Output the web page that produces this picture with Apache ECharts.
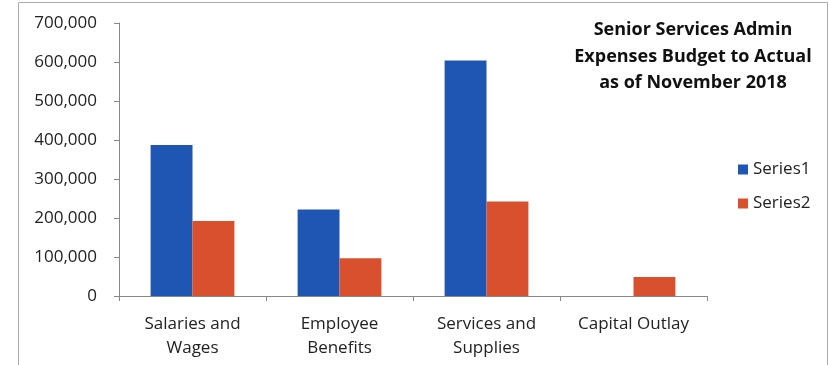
<!DOCTYPE html>
<html>
<head>
<meta charset="utf-8">
<script src="https://cdn.jsdelivr.net/npm/echarts@6/dist/echarts.min.js"></script>
<style>
  html, body { margin: 0; padding: 0; background: #fff; }
  #chart { width: 830px; height: 365px; }
</style>
</head>
<body>
<div id="chart"></div>
<script>
// Budget vs. actual expense categories
const categories = ['Salaries and\nWages', 'Employee\nBenefits', 'Services and\nSupplies', 'Capital Outlay'];
const series1 = [387000, 222000, 604000, 0];
const series2 = [192000, 97000, 242000, 49000];
const seriesNames = ['Series1', 'Series2'];
const yTicks = [0, 100000, 200000, 300000, 400000, 500000, 600000, 700000];

const font = "'Open Sans', 'Liberation Sans', sans-serif";
const chart = echarts.init(document.getElementById('chart'));

chart.setOption({
  animation: false,
  backgroundColor: '#ffffff',
  title: {
    text: 'Senior Services Admin\nExpenses Budget to Actual\nas of November 2018',
    left: 688,
    top: 12,
    textAlign: 'center',
    textStyle: {
      fontFamily: font,
      fontWeight: 'bold',
      fontSize: 18,
      lineHeight: 26.5,
      color: '#111'
    }
  },
  legend: {
    orient: 'vertical',
    left: 733,
    top: 156,
    itemWidth: 10,
    itemHeight: 10,
    itemGap: 17,
    icon: 'rect',
    textStyle: { fontFamily: font, fontSize: 17, color: '#222' },
    data: seriesNames
  },
  grid: { left: 119, top: 23, width: 588, height: 273, containLabel: false },
  xAxis: {
    type: 'category',
    data: categories,
    axisLine: { lineStyle: { color: '#888', width: 1 } },
    axisTick: { show: true, length: 5, lineStyle: { color: '#888' } },
    axisLabel: { fontFamily: font, fontSize: 17, color: '#222', lineHeight: 24, margin: 16 }
  },
  yAxis: {
    type: 'value',
    min: yTicks[0],
    max: yTicks[yTicks.length - 1],
    interval: yTicks[1] - yTicks[0],
    splitLine: { show: false },
    axisLine: { show: true, lineStyle: { color: '#888', width: 1 } },
    axisTick: { show: true, length: 5, lineStyle: { color: '#888' } },
    axisLabel: {
      fontFamily: font, fontSize: 17, color: '#222', margin: 22,
      formatter: v => v.toLocaleString('en-US')
    }
  },
  series: [
    {
      name: seriesNames[0], type: 'bar', data: series1,
      barGap: '0%', barCategoryGap: '43%',
      itemStyle: { color: '#1f56b4' }
    },
    {
      name: seriesNames[1], type: 'bar', data: series2,
      itemStyle: { color: '#d9502f' }
    }
  ],
  // chart frame: left, top and right edges
  graphic: [{
    type: 'polyline',
    shape: { points: [[18.5, 365], [18.5, 2.5], [827.5, 2.5], [827.5, 365]] },
    style: { fill: 'none', stroke: '#aaa', lineWidth: 1 },
    silent: true
  }]
});
</script>
</body>
</html>
